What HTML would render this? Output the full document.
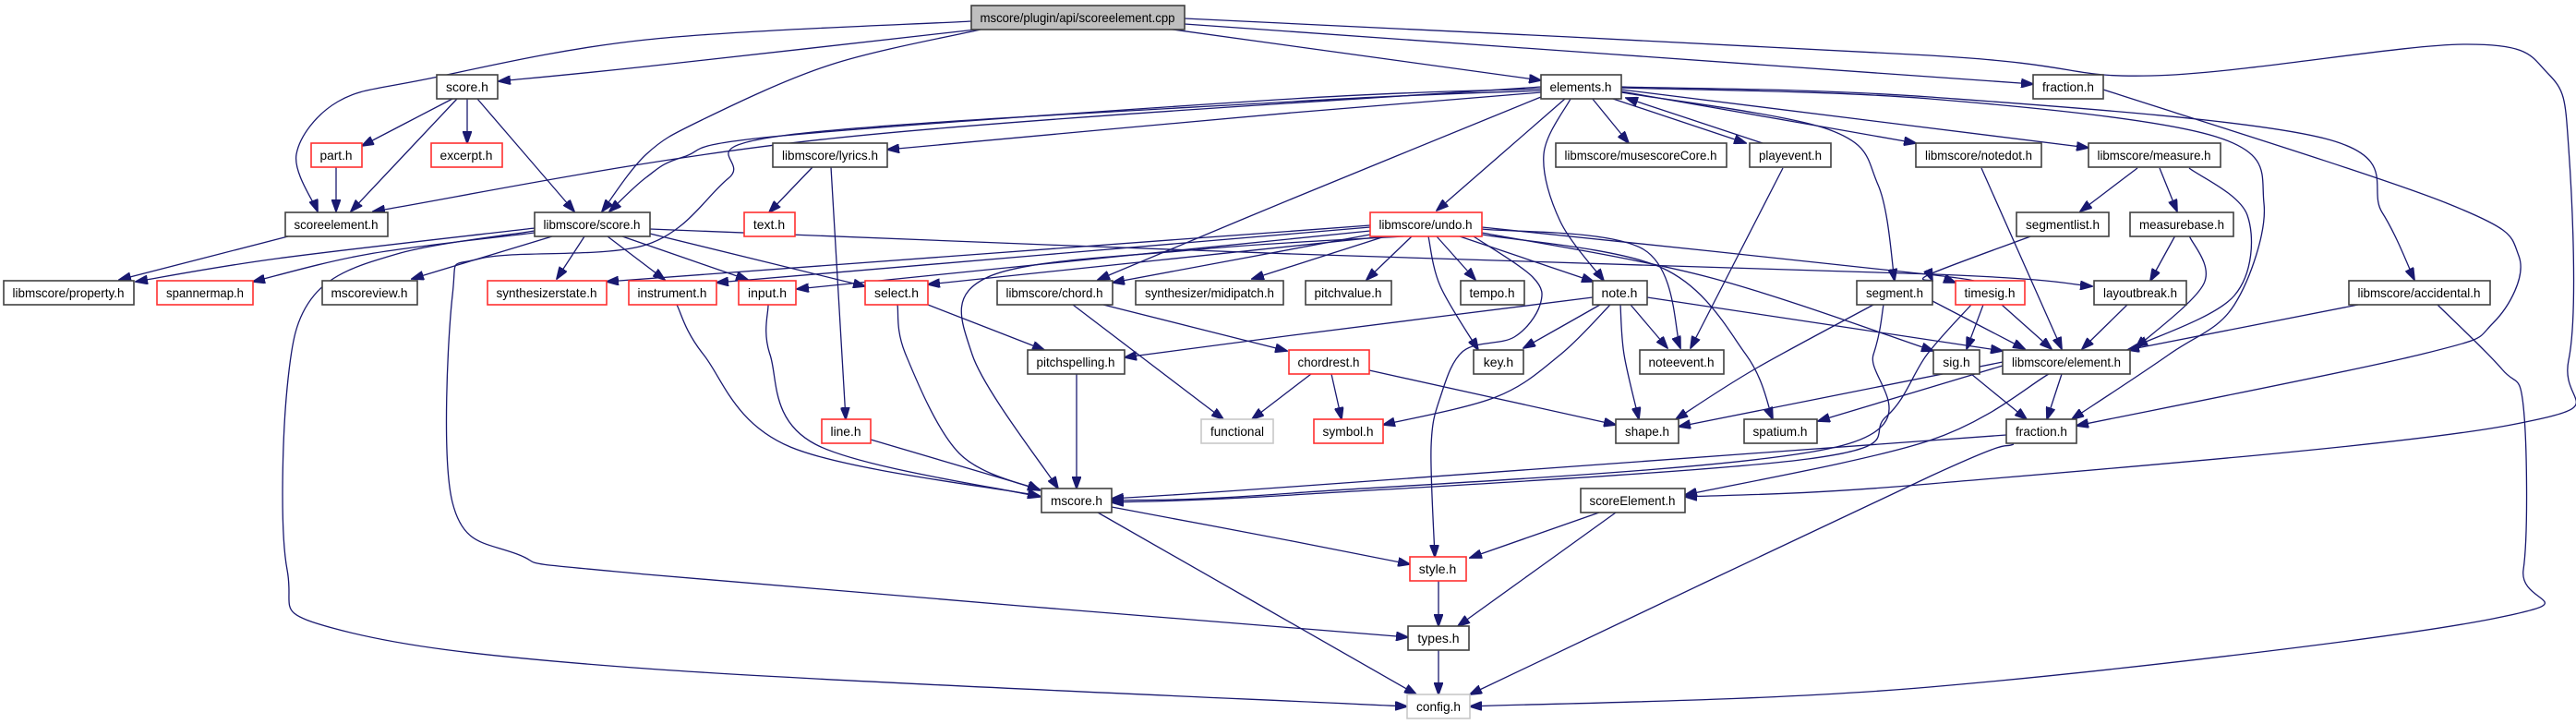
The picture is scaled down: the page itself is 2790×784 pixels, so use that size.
<!DOCTYPE html>
<html><head><meta charset="utf-8">
<style>
html,body{margin:0;padding:0;background:#fff;}
svg{display:block;}
rect{fill:#fff;stroke:#404040;stroke-width:1.6;}
rect.r{stroke:#ff3030;}
rect.g{stroke:#c8c8c8;}
rect.root{fill:#bfbfbf;}
text{font-family:"Liberation Sans",sans-serif;font-size:14px;fill:#000;text-anchor:middle;}
path.e{fill:none;stroke:#191970;stroke-width:1.3;}
</style></head><body>
<svg id="s" width="2790" height="784" viewBox="0 0 2790 784" xmlns="http://www.w3.org/2000/svg">
<defs><marker id="a" markerWidth="14" markerHeight="10" refX="13" refY="5" orient="auto" markerUnits="userSpaceOnUse"><path d="M0,0 L14,5 L0,10 z" fill="#191970" stroke="#191970"/></marker></defs>
<g id="edges"></g>
<g id="nodes">
<rect class="root" x="1052" y="6" width="231" height="26"/><text x="1167" y="24">mscore/plugin/api/scoreelement.cpp</text>
<rect x="473" y="81" width="66" height="26"/><text x="506" y="99">score.h</text>
<rect x="1669" y="81" width="87" height="26"/><text x="1712" y="99">elements.h</text>
<rect x="2202" y="81" width="76" height="26"/><text x="2240" y="99">fraction.h</text>
<rect class="r" x="337" y="155" width="55" height="26"/><text x="364" y="173">part.h</text>
<rect class="r" x="467" y="155" width="77" height="26"/><text x="505" y="173">excerpt.h</text>
<rect x="837" y="155" width="124" height="26"/><text x="899" y="173">libmscore/lyrics.h</text>
<rect x="1685" y="155" width="185" height="26"/><text x="1777" y="173">libmscore/musescoreCore.h</text>
<rect x="1895" y="155" width="88" height="26"/><text x="1939" y="173">playevent.h</text>
<rect x="2075" y="155" width="136" height="26"/><text x="2143" y="173">libmscore/notedot.h</text>
<rect x="2262" y="155" width="143" height="26"/><text x="2333" y="173">libmscore/measure.h</text>
<rect x="309" y="230" width="111" height="26"/><text x="364" y="248">scoreelement.h</text>
<rect x="579" y="230" width="125" height="26"/><text x="641" y="248">libmscore/score.h</text>
<rect class="r" x="806" y="230" width="55" height="26"/><text x="833" y="248">text.h</text>
<rect class="r" x="1484" y="230" width="121" height="26"/><text x="1544" y="248">libmscore/undo.h</text>
<rect x="2184" y="230" width="100" height="26"/><text x="2234" y="248">segmentlist.h</text>
<rect x="2307" y="230" width="112" height="26"/><text x="2363" y="248">measurebase.h</text>
<rect x="4" y="304" width="141" height="26"/><text x="74" y="322">libmscore/property.h</text>
<rect class="r" x="170" y="304" width="104" height="26"/><text x="222" y="322">spannermap.h</text>
<rect x="349" y="304" width="103" height="26"/><text x="400" y="322">mscoreview.h</text>
<rect class="r" x="528" y="304" width="129" height="26"/><text x="592" y="322">synthesizerstate.h</text>
<rect class="r" x="681" y="304" width="95" height="26"/><text x="728" y="322">instrument.h</text>
<rect class="r" x="800" y="304" width="62" height="26"/><text x="831" y="322">input.h</text>
<rect class="r" x="937" y="304" width="68" height="26"/><text x="971" y="322">select.h</text>
<rect x="1080" y="304" width="125" height="26"/><text x="1142" y="322">libmscore/chord.h</text>
<rect x="1230" y="304" width="160" height="26"/><text x="1310" y="322">synthesizer/midipatch.h</text>
<rect x="1414" y="304" width="93" height="26"/><text x="1460" y="322">pitchvalue.h</text>
<rect x="1582" y="304" width="69" height="26"/><text x="1616" y="322">tempo.h</text>
<rect x="1725" y="304" width="59" height="26"/><text x="1754" y="322">note.h</text>
<rect x="2011" y="304" width="82" height="26"/><text x="2052" y="322">segment.h</text>
<rect class="r" x="2118" y="304" width="75" height="26"/><text x="2155" y="322">timesig.h</text>
<rect x="2268" y="304" width="100" height="26"/><text x="2318" y="322">layoutbreak.h</text>
<rect x="2544" y="304" width="153" height="26"/><text x="2620" y="322">libmscore/accidental.h</text>
<rect x="1113" y="379" width="105" height="26"/><text x="1165" y="397">pitchspelling.h</text>
<rect class="r" x="1396" y="379" width="87" height="26"/><text x="1439" y="397">chordrest.h</text>
<rect x="1596" y="379" width="54" height="26"/><text x="1623" y="397">key.h</text>
<rect x="1776" y="379" width="91" height="26"/><text x="1821" y="397">noteevent.h</text>
<rect x="2094" y="379" width="50" height="26"/><text x="2119" y="397">sig.h</text>
<rect x="2169" y="379" width="138" height="26"/><text x="2238" y="397">libmscore/element.h</text>
<rect class="r" x="890" y="454" width="53" height="26"/><text x="916" y="472">line.h</text>
<rect class="g" x="1301" y="454" width="78" height="26"/><text x="1340" y="472">functional</text>
<rect class="r" x="1423" y="454" width="75" height="26"/><text x="1460" y="472">symbol.h</text>
<rect x="1750" y="454" width="68" height="26"/><text x="1784" y="472">shape.h</text>
<rect x="1889" y="454" width="79" height="26"/><text x="1928" y="472">spatium.h</text>
<rect x="2173" y="454" width="76" height="26"/><text x="2211" y="472">fraction.h</text>
<rect x="1128" y="529" width="76" height="26"/><text x="1166" y="547">mscore.h</text>
<rect x="1712" y="529" width="113" height="26"/><text x="1768" y="547">scoreElement.h</text>
<rect class="r" x="1527" y="603" width="61" height="26"/><text x="1557" y="621">style.h</text>
<rect x="1525" y="678" width="66" height="26"/><text x="1558" y="696">types.h</text>
<rect class="g" x="1524" y="752" width="68" height="26"/><text x="1558" y="770">config.h</text>
</g>
</svg>
<script>
var E=[
[[1057,32],[700,72],[540,88]],
[[1052,23],[700,43],[460,86],[366,110],[321,167],[344,229]],
[[1062,32],[900,70],[760,130],[700,167],[652,229]],
[[1669,96],[1400,107],[847,147],[740,170],[700,192],[660,229]],
[[1263,31],[1669,87]],
[[1283,26],[2202,91]],
[[1283,20],[2090,60],[2330,82],[2670,48],[2760,80],[2782,160],[2782,390],[2720,460],[2090,524],[1825,538]],
[[1669,94],[900,150],[404,229]],
[[1669,100],[1400,122],[961,162]],
[[1669,105],[1400,215],[1189,303]],
[[1669,98],[1400,110],[847,147],[789,193],[700,265],[520,280],[490,320],[490,544],[560,600],[700,622],[1525,690]],
[[1695,107],[1556,228]],
[[1724,106],[1764,155]],
[[1744,106],[1891,155]],
[[1909,155],[1761,106]],
[[1701,107],[1672,167],[1690,240],[1737,304]],
[[1756,100],[1980,140],[2034,200],[2052,304]],
[[1756,99],[2075,155]],
[[1756,97],[2262,160]],
[[1756,95],[2090,107],[2400,148],[2452,220],[2420,330],[2349,384],[2244,454]],
[[1756,94],[2090,105],[2518,150],[2580,230],[2615,303]],
[[506,107],[506,155]],
[[490,107],[392,158]],
[[495,107],[380,229]],
[[517,107],[622,229]],
[[364,181],[364,229]],
[[312,256],[129,303]],
[[579,247],[300,280],[147,305]],
[[579,252],[400,275],[274,305]],
[[598,256],[446,302]],
[[633,256],[603,302]],
[[658,256],[720,303]],
[[674,256],[810,303]],
[[704,253],[937,310]],
[[704,248],[1400,275],[2096,297],[2266,310]],
[[579,250],[430,275],[340,320],[311,420],[311,617],[360,680],[700,724],[1524,765]],
[[1484,244],[657,305]],
[[1484,246],[776,306]],
[[1484,250],[863,313]],
[[1500,256],[1005,308]],
[[1484,254],[1205,306]],
[[1500,256],[1356,302]],
[[1529,256],[1480,303]],
[[1556,256],[1598,303]],
[[1581,256],[1726,305]],
[[1547,256],[1560,310],[1601,379]],
[[1605,248],[1780,270],[1820,377]],
[[1605,246],[2096,298],[2118,306]],
[[1605,252],[1850,300],[2094,380]],
[[1605,254],[1800,290],[1891,384],[1920,454]],
[[1596,256],[1660,300],[1668,330],[1640,365],[1585,380],[1560,430],[1550,484],[1554,603]],
[[1520,256],[1300,270],[1070,300],[1053,384],[1146,529]],
[[900,181],[916,454]],
[[880,181],[833,230]],
[[733,330],[762,384],[856,484],[1126,537]],
[[832,330],[834,384],[883,481],[1126,538]],
[[972,330],[981,384],[1039,491],[1126,531]],
[[943,476],[1126,530]],
[[1166,405],[1166,529]],
[[1005,330],[1131,379]],
[[1162,330],[1325,454]],
[[1195,330],[1394,380]],
[[1725,322],[1400,363],[1218,387]],
[[1420,405],[1356,454]],
[[1442,405],[1453,454]],
[[1483,401],[1750,460]],
[[1744,330],[1690,384],[1620,430],[1498,460]],
[[1755,330],[1759,384],[1775,454]],
[[1733,330],[1650,377]],
[[1766,330],[1806,377]],
[[1784,322],[2169,380]],
[[1931,182],[1831,377]],
[[2029,330],[1900,400],[1815,454]],
[[2040,330],[2029,384],[1989,484],[1400,534],[1204,542]],
[[2093,326],[2193,378]],
[[2135,330],[2087,384],[2043,451],[1958,497],[1400,536],[1204,544]],
[[2148,330],[2130,378]],
[[2168,330],[2222,378]],
[[2202,255],[2090,297],[2093,304]],
[[2315,182],[2253,229]],
[[2339,182],[2358,229]],
[[2371,182],[2434,233],[2420,320],[2313,375]],
[[2356,255],[2329,304]],
[[2371,255],[2387,307],[2313,377]],
[[2304,330],[2255,378]],
[[2146,182],[2233,378]],
[[2554,330],[2304,379]],
[[2640,330],[2710,400],[2733,440],[2733,617],[2700,670],[2090,744],[1592,765]],
[[2278,97],[2650,220],[2728,277],[2700,350],[2621,384],[2249,461]],
[[2135,405],[2195,454]],
[[2233,405],[2217,454]],
[[2219,405],[2090,477],[1825,536]],
[[2169,392],[1818,462]],
[[2169,396],[1969,456]],
[[2173,471],[1400,527],[1204,540]],
[[2181,481],[2090,516],[1592,752]],
[[1204,549],[1400,586],[1527,611]],
[[1189,555],[1534,752]],
[[1732,555],[1592,604]],
[[1750,555],[1579,678]],
[[1558,629],[1558,678]],
[[1558,704],[1558,752]]
];
function P(p){
 var d="M"+p[0][0]+","+p[0][1];
 for(var i=0;i<p.length-1;i++){
  var p0=p[i-1]||p[i],p1=p[i],p2=p[i+1],p3=p[i+2]||p2;
  var c1=[p1[0]+(p2[0]-p0[0])/6,p1[1]+(p2[1]-p0[1])/6];
  var c2=[p2[0]-(p3[0]-p1[0])/6,p2[1]-(p3[1]-p1[1])/6];
  d+=" C"+c1[0]+","+c1[1]+" "+c2[0]+","+c2[1]+" "+p2[0]+","+p2[1];
 }
 return d;
}
var g=document.getElementById("edges"),ns="http://www.w3.org/2000/svg";
E.forEach(function(p){var e=document.createElementNS(ns,"path");e.setAttribute("d",P(p));e.setAttribute("class","e");e.setAttribute("marker-end","url(#a)");g.appendChild(e);});
var rs=document.querySelectorAll("#nodes rect");
rs.forEach(function(r){var t=r.nextElementSibling;var w=+r.getAttribute("width")-20;
 if(t.getComputedTextLength()>w){t.setAttribute("textLength",w);t.setAttribute("lengthAdjust","spacingAndGlyphs");}});
</script>
</body></html>
